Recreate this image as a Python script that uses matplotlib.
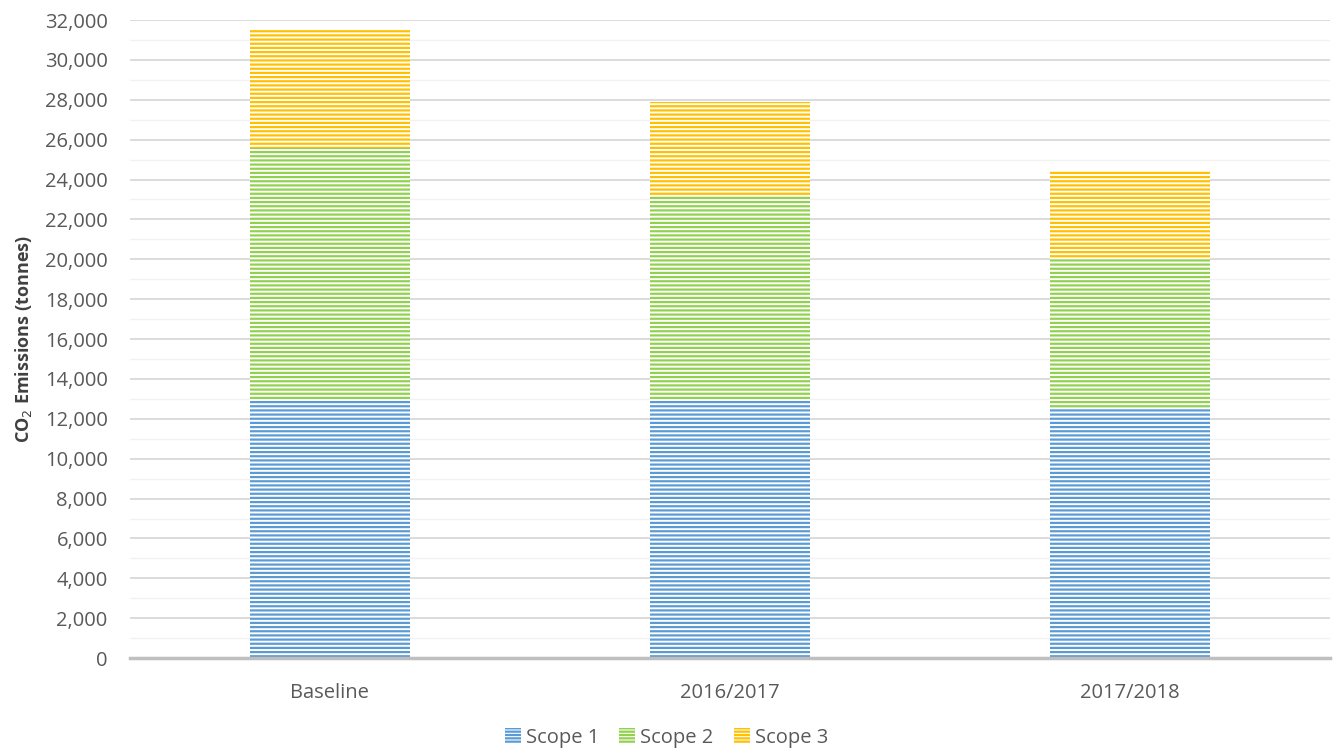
import matplotlib
matplotlib.use("Agg")
import matplotlib.pyplot as plt
from matplotlib.patches import Patch
from matplotlib.ticker import FuncFormatter, MultipleLocator

# Emissions per reporting period, tonnes CO2
periods = ["Baseline", "2016/2017", "2017/2018"]
scope_1 = [13000, 12900, 12550]
scope_2 = [12600, 10280, 7450]
scope_3 = [5900, 4720, 4420]

series_names = ["Scope 1", "Scope 2", "Scope 3"]
series_colors = ["#5B9BD5", "#92D050", "#FFC000"]

plt.rcParams["font.family"] = ["Open Sans", "DejaVu Sans"]
plt.rcParams["hatch.linewidth"] = 1.6


def main():
    fig = plt.figure(figsize=(13.33, 7.53), dpi=100)
    ax = fig.add_axes([0.0975, 0.126, 0.9, 0.8474])

    x = range(len(periods))
    bottom = [0] * len(periods)
    handles = []
    for name, values, color in zip(series_names, [scope_1, scope_2, scope_3], series_colors):
        ax.bar(x, values, width=0.4, bottom=bottom, facecolor="white",
               edgecolor=color, hatch="----", linewidth=0, zorder=3)
        bottom = [b + v for b, v in zip(bottom, values)]
        handles.append(Patch(facecolor="white", edgecolor=color, hatch="-----",
                             linewidth=0, label=name))

    ax.set_xlim(-0.5, 2.5)
    ax.set_ylim(0, 32000)
    ax.yaxis.set_major_locator(MultipleLocator(2000))
    ax.yaxis.set_minor_locator(MultipleLocator(1000))
    ax.yaxis.set_major_formatter(FuncFormatter(lambda v, p: f"{int(v):,}"))
    ax.set_xticks(list(x))
    ax.set_xticklabels(periods)

    ax.grid(axis="y", which="major", color="#D9D9D9", linewidth=1.3, zorder=0)
    ax.grid(axis="y", which="minor", color="#F2F2F2", linewidth=1.0, zorder=0)
    ax.set_axisbelow(True)

    for side in ["top", "right", "left"]:
        ax.spines[side].set_visible(False)
    ax.spines["bottom"].set_color("#BFBFBF")
    ax.spines["bottom"].set_linewidth(2.5)
    ax.spines["bottom"].set_zorder(4)

    ax.tick_params(axis="both", which="both", length=0, labelsize=14.5,
                   labelcolor="#595959")
    ax.tick_params(axis="y", pad=16)
    ax.tick_params(axis="x", pad=18)

    ax.set_ylabel("CO$_2$ Emissions (tonnes)", fontsize=13, fontweight="bold",
                  color="#404040", labelpad=8)

    fig.legend(handles=handles, loc="lower center", bbox_to_anchor=(0.5, -0.017),
               ncol=3, frameon=False, fontsize=14.5, labelcolor="#595959",
               handlelength=0.8, handleheight=0.8, handletextpad=0.25,
               columnspacing=1.0)

    fig.savefig("out.png", dpi=100)


if __name__ == "__main__":
    main()
